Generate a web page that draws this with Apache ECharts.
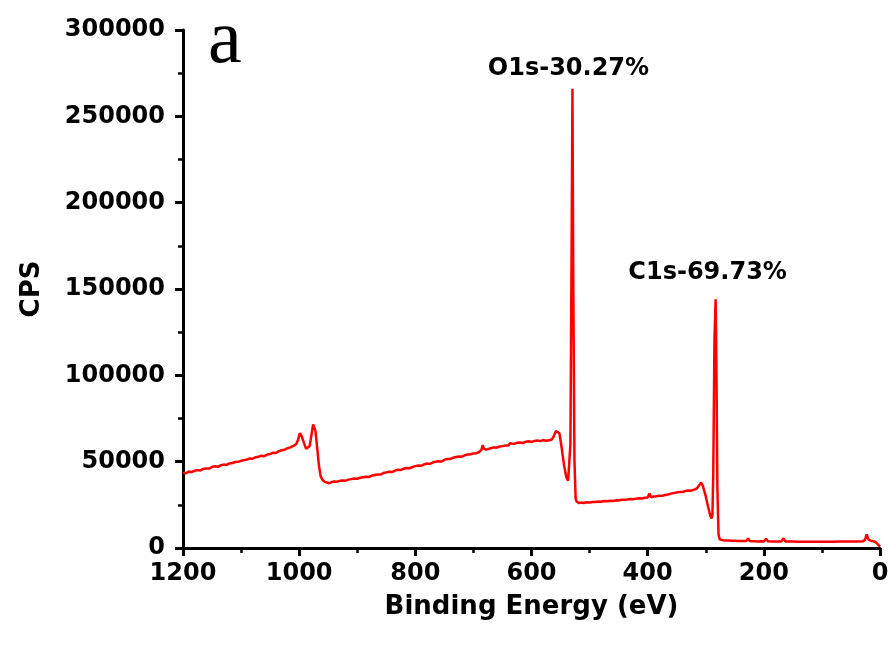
<!DOCTYPE html>
<html>
<head>
<meta charset="utf-8">
<script src="https://cdn.jsdelivr.net/npm/echarts@6/dist/echarts.min.js"></script>
<style>html,body{margin:0;padding:0;background:#fff;}#c{width:892px;height:650px;}</style>
</head>
<body>
<div id="c"></div>
<script>
var energies = [1200,1195,1190,1185,1180,1175,1170,1165,1160,1155,1150,1145,1140,1135,1130,1125,1120,1115,1110,1105,1100,1095,1090,1085,1080,1075,1070,1065,1060,1055,1050,1045,1040,1035,1030,1025,1020,1015,1010,1005,1002,999,996,992,988,985,982,979,976,974,972,969,966,963,960,956,952,948,944,940,935,930,925,920,915,910,905,900,895,890,885,880,875,870,865,860,855,850,845,840,835,830,825,820,815,810,805,800,795,790,785,780,775,770,765,760,755,750,745,740,735,730,725,720,715,710,705,700,695,690,686,684,682,678,675,670,665,660,655,650,645,640,637,634,630,625,620,615,610,605,600,595,590,585,580,575,570,565,562,558,555,552,548,544,540,537,535,533,531,529.5,528,526,524,522,518,514,510,505,500,495,490,485,480,475,470,465,460,455,450,445,440,435,430,425,420,415,410,405,400,397,394,390,385,380,375,370,365,360,355,350,345,340,335,330,325,320,315,311,308,305,300,296,292,290,288.5,287,285,283,281.5,280,278,276,274,270,265,260,255,250,245,240,235,230,227,224,220,215,210,205,200,196,193,190,185,180,175,170,166,163,160,150,140,130,120,110,100,97,94,90,80,70,60,50,40,30,26,23,20,16,12,8,5,2,0];
var cps = [43600,43200,44300,43900,44800,45100,44900,45800,46100,46000,46900,47300,47000,47900,48300,48100,49000,49200,49800,49900,50500,50900,51200,51900,51700,52600,52900,53400,53200,54100,54400,55200,55000,56100,56600,56900,57800,58300,59100,60200,62500,66400,65000,61000,57500,56800,59000,65000,71500,72000,68000,58000,48000,41500,39500,38300,37900,37500,38200,38500,38400,38900,39100,39000,39600,39900,40200,40100,40700,41000,41300,41100,41900,42300,42600,42500,43400,43800,44100,44000,44800,45300,45200,45900,46300,46200,46900,47400,47800,47600,48400,48900,48700,49500,50000,50300,50100,51000,51600,51500,52300,52700,53000,52900,53700,54100,54300,54800,54900,55600,57000,59600,57500,57000,57400,57800,58300,58100,58800,59000,59400,59300,60600,60000,60300,60900,61100,60800,61500,61800,61400,62000,62300,61900,62500,62100,62400,62800,64500,67800,68500,66500,58000,48000,41000,39000,39500,60000,170000,266000,150000,50000,28500,26800,26000,26300,26100,26500,26400,26700,26600,26900,26800,27200,27100,27300,27200,27600,27500,27900,28000,28100,28400,28200,28600,28800,28700,29100,29300,31500,29400,29800,30000,30300,30200,30700,31000,31500,31800,32200,32500,32400,33000,33300,33200,33800,34600,36500,37800,36000,30000,24000,18500,17200,19000,45000,120000,144000,100000,35000,8000,5000,4600,4500,4400,4300,4200,4200,4100,4100,4000,4100,5600,4000,3900,3900,3800,3900,3800,5300,3900,3800,3800,3700,3700,3800,5600,3800,3700,3700,3600,3600,3600,3600,3600,4300,3600,3600,3600,3700,3700,3700,3800,3900,4500,7900,5000,4200,4000,3500,2800,1500,700];
var xTicks = {min: 0, max: 1200, interval: 200};
var yTicks = {min: 0, max: 300000, interval: 50000};
var peakLabels = ['O1s-30.27%', 'C1s-69.73%'];
var peakE = [529.5, 283];
var peakV = [266000, 144000];
var panelLetter = 'a';

var data = energies.map(function (e, i) { return [e, cps[i]]; });
var font = 'DejaVu Sans';
var chart = echarts.init(document.getElementById('c'), null, {renderer: 'canvas'});
function plain(v) { return String(v); }
var axisCommon = {
  axisTick: {show: true, inside: false, length: 8, lineStyle: {color: '#000', width: 3}},
  minorTick: {show: true, splitNumber: 2, length: 5, lineStyle: {color: '#000', width: 2.5}},
  splitLine: {show: false},
  nameTextStyle: {color: '#000', fontFamily: font, fontWeight: 'bold', fontSize: 26}
};
function lbl(margin) {
  return {color: '#000', fontFamily: font, fontWeight: 'bold', fontSize: 24, margin: margin, formatter: plain};
}
chart.setOption({
  animation: false,
  backgroundColor: '#fff',
  grid: {left: 183, right: 12, top: 30, bottom: 102, containLabel: false},
  xAxis: Object.assign({}, axisCommon, {
    type: 'value', inverse: true, position: 'bottom', min: xTicks.min, max: xTicks.max, interval: xTicks.interval,
    name: 'Binding Energy (eV)', nameLocation: 'middle', nameGap: 46,
    axisLine: {show: true, onZero: false, lineStyle: {color: '#000', width: 3}},
    axisLabel: lbl(14)
  }),
  yAxis: Object.assign({}, axisCommon, {
    type: 'value', position: 'left', min: yTicks.min, max: yTicks.max, interval: yTicks.interval,
    name: 'CPS', nameLocation: 'middle', nameGap: 138,
    axisLine: {show: true, onZero: false, lineStyle: {color: '#000', width: 3}},
    axisLabel: lbl(18)
  }),
  series: [{
    type: 'line', data: data, showSymbol: false, symbol: 'none',
    lineStyle: {color: '#ff0000', width: 2.5}, itemStyle: {color: '#ff0000'},
    markPoint: {
      symbol: 'circle', symbolSize: 0,
      data: peakLabels.map(function (t, i) {
        return {coord: [peakE[i], peakV[i]], value: t,
          label: {show: true, formatter: t, position: 'top', distance: i === 0 ? 8 : 15, offset: [i === 0 ? -4 : -8, 0],
            color: '#000', fontFamily: font, fontWeight: 'bold', fontSize: 24}};
      })
    }
  }],
  graphic: [{
    type: 'text', left: 208, top: 4,
    style: {text: panelLetter, fontFamily: 'Liberation Serif', fontSize: 76, fill: '#000'}
  }]
});
</script>
</body>
</html>
